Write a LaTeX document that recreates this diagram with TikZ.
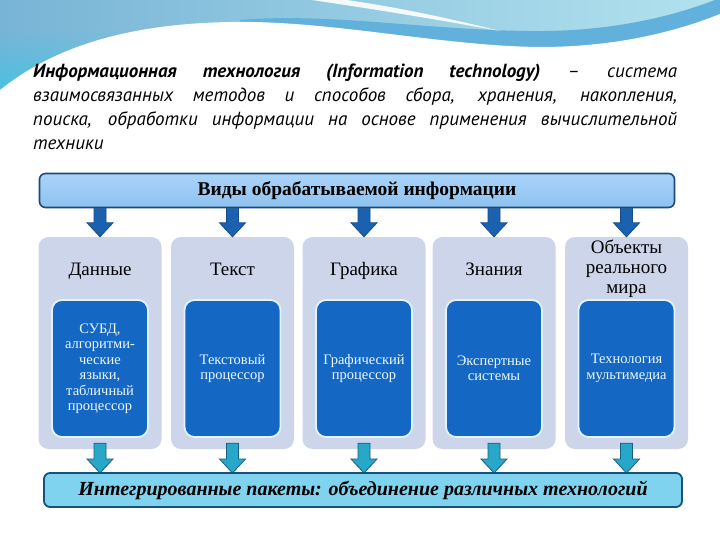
\documentclass[tikz,border=0pt]{standalone}
\usepackage{fontspec}
\setmainfont{Liberation Serif}
\newfontfamily\ptsans{PT Sans}
\usetikzlibrary{calc,fadings}
\definecolor{hdrL}{HTML}{78B4D6}
\definecolor{hdrR}{HTML}{B2E2EE}
\definecolor{cyanL}{HTML}{3CC6E4}
\definecolor{bandc}{HTML}{62B0DC}
\definecolor{topfillA}{HTML}{AAD4FA}
\definecolor{topfillB}{HTML}{8EC2F0}
\definecolor{topborder}{HTML}{1C4A78}
\definecolor{arrowblue}{HTML}{1A62B0}
\definecolor{arrowdark}{HTML}{164D8C}
\definecolor{colfill}{HTML}{CDD5EA}
\definecolor{innerfill}{HTML}{1467C2}
\definecolor{innerborder}{HTML}{DFF4FF}
\definecolor{tealc}{HTML}{29A7C9}
\definecolor{tealdark}{HTML}{165F85}
\definecolor{botfill}{HTML}{7FD3EE}
\definecolor{botborder}{HTML}{15527C}
\newcommand\blockarrow[3]{%
  \path[#1] let \p1=(#2), \p2=(#3) in
   (\x1-6pt,\y1) -- (\x1-6pt,\y2+14pt) -- (\x1-13pt,\y2+14pt) -- (\x1,\y2)
   -- (\x1+13pt,\y2+14pt) -- (\x1+6pt,\y2+14pt) -- (\x1+6pt,\y1) -- cycle;}
\begin{document}
\begin{tikzpicture}[x=1pt,y=-1pt,
  para/.style={inner sep=0pt, text width=644pt, align=justify, font=\ptsans\itshape\fontsize{19}{24}\selectfont},
  topbox/.style={draw=topborder, line width=1.6pt, top color=topfillA, bottom color=topfillB, rounded corners=6pt,
    minimum width=635pt, minimum height=34pt, inner sep=0pt, font=\bfseries\fontsize{19.5}{22}\selectfont},
  col/.style={fill=colfill, rounded corners=10pt, minimum width=123pt, minimum height=212pt, inner sep=0pt},
  coltitle/.style={align=center, inner sep=0pt, font=\fontsize{19}{20}\selectfont},
  innerbox/.style={fill=innerfill, draw=innerborder, line width=1.8pt, rounded corners=10pt,
    minimum width=96pt, minimum height=137pt, inner sep=0pt, text=white!93!cyan, align=center,
    font=\fontsize{14.5}{15.5}\selectfont},
  botbox/.style={draw=botborder, line width=1.8pt, fill=botfill, rounded corners=6pt,
    minimum width=638pt, minimum height=34pt, inner sep=0pt, font=\bfseries\itshape\fontsize{20}{22}\selectfont},
  toparrow/.style={fill=arrowblue, draw=arrowdark, line width=0.8pt, line join=miter},
  botarrow/.style={fill=tealc, draw=tealdark, line width=0.8pt, line join=miter}]
\useasboundingbox (0,0) rectangle (720,540);
\fill[white] (0,0) rectangle (720,540);
% header wave
\shade[left color=hdrL, right color=hdrR] (0,0) rectangle (720,110);
\fill[cyanL, path fading=north] (0,30) -- (200,30) -- (0,110) -- cycle;
\fill[bandc] (240,20) .. controls (330,12) and (440,32) .. (545,31)
  .. controls (630,30) and (690,10) .. (720,-2) -- (720,110) -- (240,110) -- cycle;
\fill[white, opacity=0.9] (305,-1) .. controls (380,10) and (440,20) .. (500,31)
  .. controls (440,16) and (390,6) .. (340,-1) -- cycle;
\fill[white] (0,90) .. controls (50,50) and (120,24) .. (230,22)
  .. controls (330,20) and (440,46) .. (540,47)
  .. controls (620,47) and (680,30) .. (720,14) -- (720,540) -- (0,540) -- cycle;
% paragraph
\node[para, anchor=north west] (para) at (33,64) {\textbf{Информационная технология (Information technology)} – система\linebreak взаимосвязанных методов и способов сбора, хранения, накопления,\linebreak поиска, обработки информации на основе применения вычислительной\linebreak техники};
% top box
\node[topbox] (vtop) at (357,190.5) {Виды обрабатываемой информации};
% columns
\node[col] (c1) at (100,343) {};
\node[col] (c2) at (232.5,343) {};
\node[col] (c3) at (364,343) {};
\node[col] (c4) at (494,343) {};
\node[col] (c5) at (626.5,343) {};
\node[coltitle, anchor=base] (t1) at (100,275) {Данные};
\node[coltitle, anchor=base] (t2) at (232.5,275) {Текст};
\node[coltitle, anchor=base] (t3) at (364,275) {Графика};
\node[coltitle, anchor=base] (t4) at (494,275) {Знания};
\node[coltitle] (t5) at (626.5,268.5) {Объекты\\реального\\мира};
\node[innerbox] (i1) at (100,368.5) {СУБД,\\алгоритми-\\ческие\\языки,\\табличный\\процессор};
\node[innerbox] (i2) at (232.5,368.5) {Текстовый\\процессор};
\node[innerbox] (i3) at (364,368.5) {Графический\\процессор};
\node[innerbox] (i4) at (494,368.5) {Экспертные\\системы};
\node[innerbox] (i5) at (626.5,368.5) {Технология\\мультимедиа};
% top arrows
\foreach \i in {1,...,5}{\blockarrow{toparrow}{vtop.south -| c\i.north}{c\i.north}}
% bottom box and arrows
\coordinate (bb) at (363,490);
\coordinate (bbtop) at (363,473);
\foreach \i in {1,...,5}{\blockarrow{botarrow}{$(c\i.south)+(0,-6)$}{bbtop -| c\i.south}}
\node[botbox] (integ) at (bb) {Интегрированные пакеты: объединение различных технологий};
\end{tikzpicture}
\end{document}
